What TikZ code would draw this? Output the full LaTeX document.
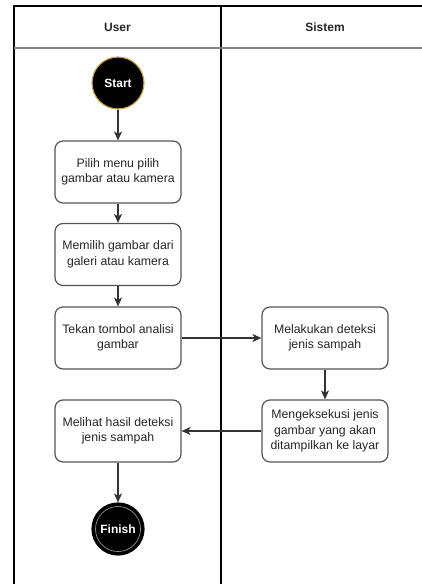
\documentclass[tikz,border=0pt]{standalone}
\usepackage{fontspec}
\setmainfont{Liberation Sans}
\usetikzlibrary{arrows.meta}
\definecolor{boxline}{HTML}{555555}
\definecolor{arrline}{HTML}{333333}
\definecolor{startring}{HTML}{C9A74A}
\definecolor{headline}{HTML}{808080}
\tikzset{
  actbox/.style={draw=boxline, line width=1.2pt, rounded corners=8pt, fill=white,
    minimum width=126pt, minimum height=62pt, align=center,
    font=\fontsize{12.3pt}{15.5pt}\selectfont, text=black!85, inner sep=0pt},
  flow/.style={draw=arrline, line width=1.1pt, -{Stealth[length=9pt,width=8pt,inset=2.5pt]}},
  lane/.style={draw=black, line width=1.1pt},
  headtxt/.style={font=\fontsize{12pt}{14pt}\selectfont\bfseries, text=black!85},
}
\begin{document}
\begin{tikzpicture}[x=1pt,y=-1pt]
\useasboundingbox (0,0) rectangle (422,584);
% swimlanes
\draw[lane] (14,584) -- (14,6) -- (422,6);
\draw[lane] (221,6) -- (221,584);
\draw[draw=headline, line width=1.8pt] (14,48) -- (422,48);
\node[headtxt] (hu) at (117.5,27.5) {User};
\node[headtxt] (hs) at (325,27.5) {Sistem};
% start
\node[circle, fill=black, draw=startring, line width=1.2pt, minimum size=52pt, inner sep=0pt,
  text=white, font=\fontsize{12pt}{14pt}\selectfont\bfseries] (start) at (118,83) {Start};
% boxes
\node[actbox] (b1) at (118,172) {Pilih menu pilih\\gambar atau kamera};
\node[actbox] (b2) at (118,254.5) {Memilih gambar dari\\galeri atau kamera};
\node[actbox] (b3) at (118,338) {Tekan tombol analisi\\gambar};
\node[actbox] (s1) at (325,338) {Melakukan deteksi\\jenis sampah};
\node[actbox] (s2) at (325,431) {Mengeksekusi jenis\\gambar yang akan\\ditampilkan ke layar};
\node[actbox] (b4) at (118,431) {Melihat hasil deteksi\\jenis sampah};
% finish
\node[circle, fill=black, draw=black, line width=1.2pt, minimum size=52pt, inner sep=0pt,
  text=white, font=\fontsize{12pt}{14pt}\selectfont\bfseries] (finish) at (118,529) {Finish};
\draw[draw=gray!70, line width=0.6pt] (finish.center) circle[radius=22.5pt];
% arrows
\draw[flow] (start) -- (b1);
\draw[flow] (b1) -- (b2);
\draw[flow] (b2) -- (b3);
\draw[flow] (b3) -- (s1);
\draw[flow] (s1) -- (s2);
\draw[flow] (s2) -- (b4);
\draw[flow] (b4) -- (finish);
\end{tikzpicture}
\end{document}
